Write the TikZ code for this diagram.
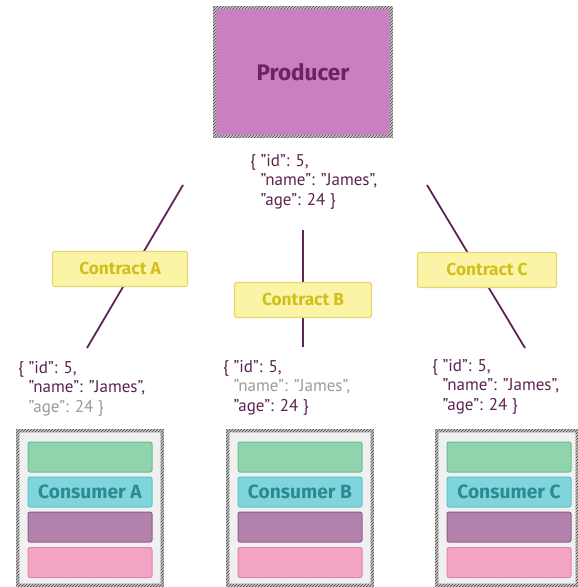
\documentclass[tikz,border=0pt]{standalone}
\usepackage{fontspec}
\setmainfont{PT Sans}
\newfontfamily\labelfont{Fira Sans}
\usetikzlibrary{patterns}

\definecolor{prodfill}{HTML}{CB7FC3}
\definecolor{prodtext}{HTML}{6E2266}
\definecolor{jsontext}{HTML}{5B2350}
\definecolor{jsongrey}{HTML}{9A9A9A}
\definecolor{wirecol}{HTML}{5E2456}
\definecolor{ctrfill}{HTML}{FBF4A6}
\definecolor{ctrline}{HTML}{E5D86A}
\definecolor{ctrtext}{HTML}{D2BF1E}
\definecolor{greenfill}{HTML}{8FD4AC}
\definecolor{greenline}{HTML}{67BD8D}
\definecolor{cyanfill}{HTML}{80D5DC}
\definecolor{cyanline}{HTML}{58C3CC}
\definecolor{cyantext}{HTML}{2B8A95}
\definecolor{purplefill}{HTML}{B282AC}
\definecolor{purpleline}{HTML}{8D5F88}
\definecolor{pinkfill}{HTML}{F3A3C3}
\definecolor{pinkline}{HTML}{E384AC}
\definecolor{framefill}{HTML}{F0F0F0}
\definecolor{ringbg}{HTML}{C4C4C4}
\definecolor{ringline}{HTML}{4A4A4A}

% hatched border band around a named node
\newcommand\hatchring[1]{%
  \fill[ringbg, even odd rule]
    ([xshift=-1.6pt,yshift=1.6pt]#1.north west) rectangle ([xshift=1.6pt,yshift=-1.6pt]#1.south east)
    ([xshift=1.6pt,yshift=-1.6pt]#1.north west) rectangle ([xshift=-1.6pt,yshift=1.6pt]#1.south east);
  \fill[pattern=north east lines, pattern color=ringline, even odd rule]
    ([xshift=-1.6pt,yshift=1.6pt]#1.north west) rectangle ([xshift=1.6pt,yshift=-1.6pt]#1.south east)
    ([xshift=1.6pt,yshift=-1.6pt]#1.north west) rectangle ([xshift=-1.6pt,yshift=1.6pt]#1.south east);
}

\begin{document}
\begin{tikzpicture}[x=1pt,y=-1pt,
  prodbox/.style={fill=prodfill, minimum width=176pt, minimum height=128pt, inner sep=0pt,
    rounded corners=2pt,
    font=\labelfont\bfseries\fontsize{22.5}{26}\selectfont, text=prodtext},
  contract/.style={fill=ctrfill, draw=ctrline, line width=1.2pt, rounded corners=2pt,
    minimum height=35pt, inner sep=0pt,
    font=\labelfont\bfseries\fontsize{17.3}{20}\selectfont, text=ctrtext},
  json/.style={anchor=north west, inner sep=0pt, align=left,
    font=\fontsize{17}{19.5}\selectfont, text=jsontext},
  frame/.style={fill=framefill, minimum height=154pt, inner sep=0pt},
  bar/.style={minimum width=124pt, minimum height=30pt, rounded corners=2pt,
    line width=1pt, inner sep=0pt},
  greenbar/.style={bar, fill=greenfill, draw=greenline},
  cyanbar/.style={bar, fill=cyanfill, draw=cyanline, text=cyantext,
    font=\labelfont\bfseries\fontsize{19.2}{22}\selectfont},
  purplebar/.style={bar, fill=purplefill, draw=purpleline},
  pinkbar/.style={bar, fill=pinkfill, draw=pinkline},
  wire/.style={draw=wirecol, line width=1.8pt}]

\useasboundingbox (0,0) rectangle (578,587);

% producer
\node[prodbox] (prod) at (303,72) {Producer};
\hatchring{prod}
\node[json] (pjson) at (250,154)
  {\{ "id": 5,\\\phantom{\{ }"name": "James",\\\phantom{\{ }"age": 24 \}};

% wire ends
\coordinate (aT) at (183,185);
\coordinate (aB) at (87,348);
\coordinate (bT) at (303,230);
\coordinate (bB) at (303,347);
\coordinate (cT) at (427,185);
\coordinate (cB) at (525,348);

\draw[wire] (aT) -- (aB);
\draw[wire] (bT) -- (bB);
\draw[wire] (cT) -- (cB);

% contracts
\node[contract, minimum width=135pt] (ctrA) at (120,269) {Contract A};
\node[contract, minimum width=137pt] (ctrB) at (303,300) {Contract B};
\node[contract, minimum width=139pt] (ctrC) at (487,270) {Contract C};

% payloads seen by each consumer
\node[json] (ajson) at (18,361)
  {\{ "id": 5,\\\phantom{\{ }"name": "James",\\\phantom{\{ }\textcolor{jsongrey}{"age": 24 \}}};
\node[json] (bjson) at (223,360)
  {\{ "id": 5,\\\phantom{\{ }\textcolor{jsongrey}{"name": "James",}\\\phantom{\{ }"age": 24 \}};
\node[json] (cjson) at (432,359)
  {\{ "id": 5,\\\phantom{\{ }"name": "James",\\\phantom{\{ }"age": 24 \}};

% consumers
\node[frame, minimum width=144pt] (consA) at (90,508) {};
\hatchring{consA}
\node[frame, minimum width=144pt] (consB) at (300,508) {};
\hatchring{consB}
\node[frame, minimum width=140pt] (consC) at (507,508) {};
\hatchring{consC}

\node[greenbar]  (a1) at (90,457) {};
\node[cyanbar]   (a2) at (90,492) {Consumer A};
\node[purplebar] (a3) at (90,527) {};
\node[pinkbar]   (a4) at (90,562.5) {};

\node[greenbar]  (b1) at (300,457) {};
\node[cyanbar]   (b2) at (300,492) {Consumer B};
\node[purplebar] (b3) at (300,527) {};
\node[pinkbar]   (b4) at (300,562.5) {};

\node[greenbar]  (c1) at (509,457) {};
\node[cyanbar]   (c2) at (509,492) {Consumer C};
\node[purplebar] (c3) at (509,527) {};
\node[pinkbar]   (c4) at (509,562.5) {};

\end{tikzpicture}
\end{document}
